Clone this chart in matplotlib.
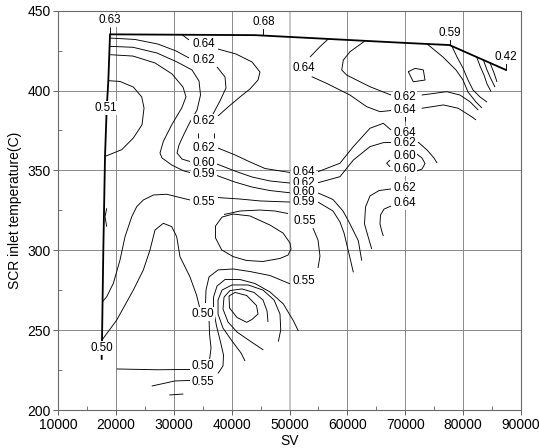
import matplotlib
matplotlib.use("Agg")
import matplotlib.pyplot as plt
from matplotlib.ticker import MultipleLocator, StrMethodFormatter

plt.rcParams['font.family'] = ['Liberation Sans', 'DejaVu Sans']

# ---------------- data (SV, SCR inlet temperature) ----------------
boundary = [(17500, 232.0), (17560, 244.4), (17785, 300.2), (18080, 359.0), (18373, 389.0),
            (18650, 406.0), (18944, 435.2), (44029, 434.7), (69114, 430.0), (77678, 428.5),
            (87452, 412.9)]

tick_063 = [(18944, 435.2), (18944, 440.0)]
tick_068 = [(45470, 434.6), (45470, 439.2)]
tick_059 = [(77678, 428.5), (77678, 432.8)]
tick_042 = [(87452, 412.9), (87452, 417.0)]
tick_mid = [(69980, 384.0), (69980, 381.0)]

c064_stub = [(31400, 435.0), (32610, 431.7)]
c062_top = [(18920, 432.9), (23270, 432.0), (27250, 429.1), (30360, 424.8), (32610, 420.4)]
c060_left = [(18870, 427.7), (22920, 427.1), (27080, 423.5), (30540, 417.9), (33130, 412.9),
             (34340, 406.0), (34600, 397.2), (34000, 387.8), (32780, 380.3), (31750, 372.8),
             (30880, 365.9), (30540, 360.9), (31400, 357.1), (32780, 355.6)]
c059_left = [(18810, 422.5), (22920, 421.6), (26730, 417.3), (29670, 410.4), (31570, 402.2),
             (32090, 396.0), (31350, 389.1), (29620, 378.6), (28170, 368.2), (27590, 360.9),
             (27940, 357.8), (29620, 353.4), (31630, 349.8), (32780, 348.7)]
c064_loop = [(37630, 426.0), (40740, 422.9), (43510, 417.9), (44890, 411.6), (44550, 406.6),
             (43160, 401.0), (41430, 396.0), (39360, 389.7), (37630, 384.1)]
c062_mid = [(37455, 414.8), (38840, 408.5), (39010, 401.6), (37970, 393.5), (36760, 385.3)]
dash_a = [(34220, 373.4), (34220, 370.3)]
dash_b = [(36990, 373.4), (36990, 370.3)]
c062_fan = [(37630, 364.0), (40570, 359.7), (43160, 355.3), (45760, 351.2), (50080, 348.7)]
c060_fan = [(37455, 354.0), (40570, 349.6), (43510, 345.9), (46620, 343.4), (50080, 342.1)]
c059_fan = [(37455, 346.8), (40570, 342.7), (43510, 339.6), (46620, 337.4), (50080, 336.0)]
c055_mid = [(37630, 333.0), (41430, 332.1), (44890, 330.9), (50080, 330.2)]
c055_upper = [(38670, 322.4), (41430, 324.6), (44890, 325.2), (47490, 324.6), (49740, 323.0)]
oval_055 = [(38320, 320.8), (40220, 322.7), (43160, 321.5), (46620, 315.8), (48870, 310.8),
            (50080, 304.6), (50260, 300.8), (49740, 297.0), (48350, 294.9), (45410, 293.0),
            (42590, 293.6), (40270, 296.0), (38270, 300.2), (37200, 307.7), (37200, 315.2),
            (38320, 320.8)]
c055_down = [(54060, 313.9), (54930, 306.4), (55270, 296.4), (54930, 288.9)]
c064_rise = [(54930, 349.2), (58730, 354.5), (61040, 364.9), (63920, 376.4), (66230, 379.5),
             (67560, 375.3)]
c062_rise = [(54930, 342.3), (58730, 346.1), (61040, 356.5), (63920, 364.9), (66230, 367.4),
             (67560, 367.5)]
c060_down = [(54930, 335.9), (57520, 331.8), (59250, 324.6), (60290, 317.7), (61160, 311.4),
             (61900, 306.0), (62490, 293.5)]
c059_down = [(54930, 330.2), (57520, 324.6), (58730, 317.7), (59430, 310.8), (59890, 303.9),
             (60460, 295.2), (61040, 286.2)]
c062_right_down = [(67560, 338.4), (65480, 337.4), (63920, 334.0), (63150, 327.1),
                   (62970, 316.5), (63630, 308.1), (64220, 300.8)]
c064_right_down = [(67560, 327.7), (66350, 325.8), (65740, 322.1), (65650, 316.5),
                   (65950, 312.1), (66230, 308.9)]
chev_060 = [(67380, 356.5), (66810, 354.5), (67380, 352.3)]
paren_060 = [(72000, 360.3), (72920, 357.8), (73440, 354.3), (72920, 350.9), (72000, 349.6)]
c062_right_tail = [(72230, 367.8), (73790, 362.8), (75000, 357.8), (75520, 354.6)]
x1 = [(63060, 431.1), (60460, 424.3), (59310, 419.1), (59030, 412.9), (59890, 409.7),
      (63920, 402.4), (67560, 397.2)]
x2 = [(56710, 432.3), (55270, 427.5), (53540, 421.0)]
x3 = [(53840, 408.7), (56430, 404.5), (60460, 397.2), (63350, 389.9), (65650, 386.8),
      (67560, 387.5)]
tail_062 = [(72870, 397.2), (77190, 399.3), (79490, 397.2), (81220, 393.0), (82660, 387.8)]
tail_064 = [(72870, 388.9), (76610, 391.0), (79200, 388.9), (81520, 383.6), (82260, 381.6)]
pentagon = [(70550, 411.8), (71710, 413.9), (73150, 412.9), (73440, 406.6), (71420, 405.5),
            (70550, 411.8)]
fan1 = [(73790, 429.2), (76550, 421.0), (78800, 412.9), (80010, 406.6), (80880, 399.1),
        (82260, 392.8), (83300, 389.1)]
fan2 = [(78060, 428.0), (78980, 421.0), (80010, 414.1), (80880, 406.6), (81740, 400.4),
        (82950, 396.0), (84170, 392.8)]
fan3 = [(82380, 421.0), (82950, 415.4), (83650, 409.7), (84170, 404.1), (84860, 399.4)]
fan4 = [(83530, 419.2), (84170, 412.9), (84860, 407.2), (85550, 402.2)]
fan5 = [(84680, 417.4), (85380, 411.0), (85900, 405.4)]
loop_051 = [(18650, 406.2), (20670, 405.7), (22980, 402.2), (24430, 396.0), (24830, 389.1),
            (24480, 378.6), (22980, 370.3), (20970, 363.0), (18100, 358.8)]
c055_big = [(17660, 267.9), (18370, 270.9), (19520, 279.3), (20670, 293.9), (21540, 308.5),
            (22700, 321.0), (23560, 327.3), (24710, 331.5), (26440, 334.6), (28750, 335.1),
            (31630, 332.5), (32780, 331.5)]
peak_050 = [(17560, 243.8), (20100, 256.3), (22980, 275.1), (24710, 287.7), (25860, 300.2),
            (26730, 312.7), (28170, 316.9), (29620, 314.8), (30480, 308.5), (31050, 296.0),
            (32780, 283.3), (33910, 272.0), (34430, 264.5)]
p_top = [(50080, 279.0), (46620, 284.2), (43160, 286.7), (40220, 288.3), (37630, 287.7),
         (36070, 283.3), (35550, 275.1), (35470, 267.0)]
p_bottom = [(36070, 257.6), (36160, 247.6), (36420, 238.8), (36160, 231.3)]
o_curve = [(51520, 249.6), (50660, 255.9), (48930, 266.4), (46620, 273.9), (44030, 279.2),
           (41430, 281.7), (38840, 281.7), (37460, 277.6), (36850, 270.7), (36850, 262.6),
           (37370, 252.6), (38060, 242.6), (38580, 234.4), (38490, 227.6), (37630, 222.9)]
h1 = [(48060, 242.8), (48480, 250.1), (48350, 260.1), (47320, 268.9), (45410, 275.1),
      (42820, 278.3), (40050, 278.3), (38320, 275.1), (37630, 268.9), (37630, 260.1),
      (38490, 251.3), (40050, 243.2), (41610, 235.7), (42300, 230.7)]
h2 = [(45470, 237.6), (43160, 243.2), (40920, 248.8), (39360, 255.1), (38490, 263.2),
      (38670, 270.7), (39700, 274.8), (41780, 275.8), (43860, 273.6), (45410, 268.9),
      (46110, 262.0), (46280, 255.1)]
n1 = [(39530, 271.4), (40570, 273.6), (42590, 271.7), (44290, 265.4), (44550, 260.1),
      (43510, 256.7), (42590, 254.9), (40920, 257.9), (39620, 263.9), (39530, 271.4)]
base_050 = [(20100, 225.7), (27020, 225.2), (32780, 225.4)]
base_055 = [(26160, 215.0), (30190, 218.2), (32780, 218.5)]
base_small = [(29200, 209.4), (31630, 210.0)]
bump = [(18370, 326.3), (18080, 321.0), (18370, 314.8)]

label_text = ["0.63", "0.68", "0.59", "0.64", "0.42", "0.62", "0.64", "0.62", "0.51", "0.64",
              "0.62", "0.64", "0.62", "0.62", "0.60", "0.60", "0.60", "0.64", "0.59", "0.62",
              "0.62", "0.60", "0.55", "0.59", "0.64", "0.55", "0.55", "0.50", "0.50", "0.50",
              "0.55"]
label_sv = [18944, 45470, 77680, 35090, 87450, 35090, 52500, 69980, 18300, 69980,
            35090, 69980, 69980, 35090, 69980, 35090, 69980, 52390, 35090, 52390,
            69980, 52390, 35090, 52390, 69980, 52680, 52390, 35030, 17500, 35030,
            35030]
label_t = [444.2, 443.1, 436.2, 429.3, 421.2, 418.9, 413.9, 396.2, 389.3, 387.8,
           381.2, 373.2, 367.0, 364.0, 359.2, 354.5, 350.7, 348.8, 347.8, 342.3,
           339.0, 336.5, 330.5, 330.4, 329.4, 318.5, 280.9, 260.0, 238.8, 227.3,
           217.4]

contour_lines = [c064_stub, c062_top, c060_left, c059_left, c064_loop, c062_mid, dash_a, dash_b,
                 c062_fan, c060_fan, c059_fan, c055_mid, c055_upper, oval_055, c055_down,
                 c064_rise, c062_rise, c060_down, c059_down, c062_right_down, c064_right_down,
                 chev_060, paren_060, c062_right_tail, x1, x2, x3, tail_062, tail_064, pentagon,
                 fan1, fan2, fan3, fan4, fan5, loop_051, c055_big, peak_050, p_top, p_bottom,
                 o_curve, h1, h2, n1, base_050, base_055, base_small, bump,
                 tick_063, tick_068, tick_059, tick_042, tick_mid]

# ---------------- figure ----------------
fig = plt.figure(figsize=(5.39, 4.48), dpi=100)
ax = fig.add_axes([0.1082, 0.0848, 0.8579, 0.8913])
ax.set_xlim(10000, 90000)
ax.set_ylim(200, 450)

ax.xaxis.set_major_locator(MultipleLocator(10000))
ax.xaxis.set_minor_locator(MultipleLocator(5000))
ax.yaxis.set_major_locator(MultipleLocator(50))
ax.yaxis.set_minor_locator(MultipleLocator(25))
ax.xaxis.set_major_formatter(StrMethodFormatter('{x:.0f}'))
ax.yaxis.set_major_formatter(StrMethodFormatter('{x:.0f}'))
ax.tick_params(which='major', direction='out', length=3.5, width=0.7, color='#606060',
               labelsize=10, pad=2)
ax.tick_params(which='minor', direction='in', length=3, width=0.6, color='#606060')

ax.set_axisbelow(True)
ax.grid(True, which='major', color='#8a8a8a', lw=0.7)
for i, gl in enumerate(ax.get_xgridlines()):
    if abs(ax.get_xticks()[i] - 50000) < 1:
        gl.set_color('#c8c8c8')
        gl.set_linewidth(1.4)
for sp in ax.spines.values():
    sp.set_color('#6a6a6a')
    sp.set_linewidth(0.8)

for line in contour_lines:
    xs, ys = zip(*line)
    ax.plot(xs, ys, color='black', lw=0.65, zorder=2, solid_capstyle='butt')

bx, by = zip(*boundary)
ax.plot(bx, by, color='black', lw=1.3, zorder=2.5, solid_joinstyle='miter')

for i, (txt, x, y) in enumerate(zip(label_text, label_sv, label_t)):
    ax.text(x, y, txt, ha='center', va='center', fontsize=8.4, zorder=3 + i * 0.01,
            bbox=dict(boxstyle='square,pad=0.08', fc='white', ec='none'))

ax.set_xlabel('SV', fontsize=10, labelpad=2)
ax.set_ylabel('SCR inlet temperature(C)', fontsize=10, labelpad=4)

fig.savefig('out.png', dpi=100)
